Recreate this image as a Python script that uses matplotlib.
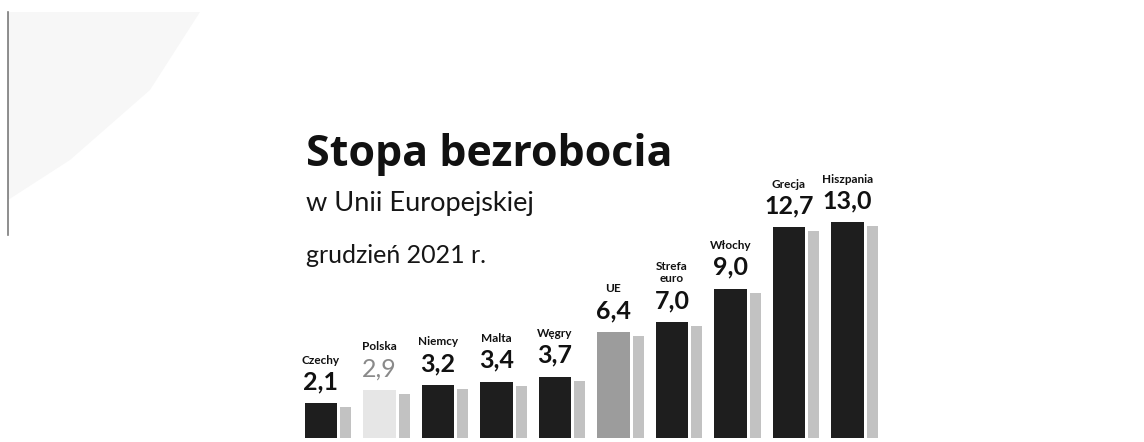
import matplotlib.pyplot as plt
from matplotlib.patches import Polygon
import numpy as np

# Stopa bezrobocia, grudzień 2021 r. (%)
countries = ['Czechy', 'Polska', 'Niemcy', 'Malta', 'Węgry',
             'UE', 'Strefa\neuro', 'Włochy', 'Grecja', 'Hiszpania']
rates = [2.1, 2.9, 3.2, 3.4, 3.7, 6.4, 7.0, 9.0, 12.7, 13.0]
value_labels = ['2,1', '2,9', '3,2', '3,4', '3,7', '6,4', '7,0', '9,0', '12,7', '13,0']

front_colors = ['#1e1e1e', '#e6e6e6', '#1e1e1e', '#1e1e1e', '#1e1e1e',
                '#9c9c9c', '#1e1e1e', '#1e1e1e', '#1e1e1e', '#1e1e1e']
label_colors = ['#111111', '#8a8a8a'] + ['#111111'] * 8

fig = plt.figure(figsize=(11.44, 4.42), dpi=100)
fig.set_facecolor('white')
ax = fig.add_axes([0, 0, 1, 1])
ax.set_facecolor('white')
ax.axis('off')

x = np.arange(len(rates))
vals = np.array(rates)

# pixel mapping: bar centres 321 + 58.5*i, baseline at y=438, 16.6 px per unit
ax.set_xlim(-321 / 58.5, (1144 - 321) / 58.5)
ax.set_ylim(-4 / 16.6, 438 / 16.6)

# shaded side face of each "3D" bar
ax.bar(x + 0.42, vals - 0.25, width=0.19, color='#c2c2c2', edgecolor='none', zorder=1)
# front face
ax.bar(x, vals, width=0.55, color=front_colors, edgecolor='none', zorder=2)

for xi, v, lab, name, c in zip(x, vals, value_labels, countries, label_colors):
    weight = 'normal' if c != '#111111' else 'bold'
    ax.annotate(lab, (xi, v), xytext=(0, 7), textcoords='offset points',
                ha='center', va='bottom', fontsize=18, fontweight=weight,
                color=c, family='Lato', zorder=3)
    ax.annotate(name, (xi, v), xytext=(0, 27), textcoords='offset points',
                ha='center', va='bottom', fontsize=8.5, fontweight='bold',
                color='#111111', family='Lato', linespacing=1.2, zorder=3)

# titles
fig.text(306 / 1144, 1 - 166 / 442, 'Stopa bezrobocia', fontsize=31,
         fontweight='bold', family='Open Sans', color='#111111', va='baseline')
fig.text(306 / 1144, 1 - 211 / 442, 'w Unii Europejskiej', fontsize=19.5,
         family='Lato', color='#161616', va='baseline')
fig.text(306 / 1144, 1 - 263 / 442, 'grudzień 2021 r.', fontsize=18,
         family='Lato', color='#161616', va='baseline')

# scanner artefacts on the left edge
fig.add_artist(Polygon([(8 / 1144, 1 - 12 / 442), (200 / 1144, 1 - 12 / 442),
                        (150 / 1144, 1 - 90 / 442), (70 / 1144, 1 - 160 / 442),
                        (8 / 1144, 1 - 200 / 442)], closed=True,
                       facecolor='#f7f7f7', edgecolor='none',
                       transform=fig.transFigure))
fig.add_artist(plt.Line2D([8 / 1144, 8 / 1144], [1 - 12 / 442, 1 - 235 / 442],
                          color='#444444', linewidth=1.2, alpha=0.7))

plt.savefig('out.png', dpi=100, facecolor='white')
